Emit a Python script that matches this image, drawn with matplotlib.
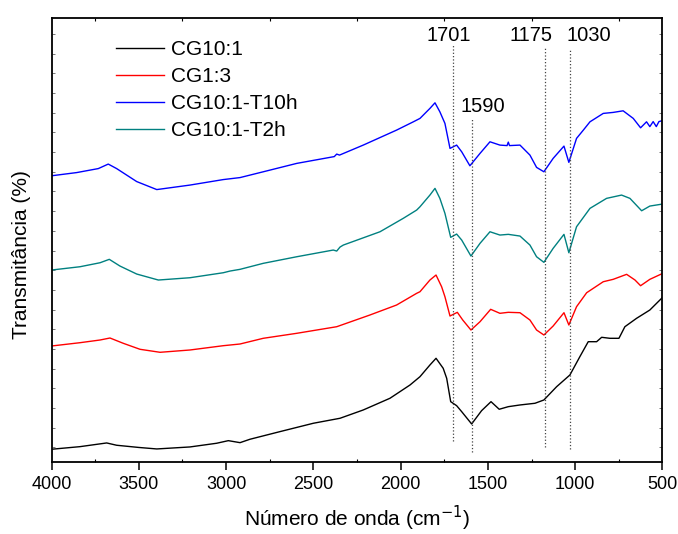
import numpy as np
import matplotlib
matplotlib.use("Agg")
import matplotlib.pyplot as plt
from matplotlib.ticker import MultipleLocator

plt.rcParams['font.family'] = ['Liberation Sans', 'DejaVu Sans']

# FTIR spectra, stacked (arbitrary transmittance offsets)
wn_black = [4000, 3837, 3684, 3627, 3500, 3397, 3207, 3054, 2987, 2920, 2863, 2692, 2500,
            2347, 2214, 2061, 1946, 1889, 1832, 1797, 1756, 1736, 1713, 1679, 1650,
            1593, 1536, 1482, 1435, 1383, 1316, 1230, 1179, 1106, 1030, 973, 925,
            877, 848, 801, 749, 715, 648, 572, 500]
t_black = [13.2, 15.8, 19.5, 17.2, 15.0, 13.5, 15.5, 19.2, 21.8, 19.8, 23.2, 30.8, 39.2,
           44.2, 52.5, 64.2, 77.5, 85.8, 97.5, 104.2, 94.2, 84.2, 60.8, 56.8, 50.8,
           38.5, 51.8, 60.8, 53.2, 55.8, 57.5, 59.2, 62.5, 75.8, 87.5, 105.8, 120.8,
           120.8, 125.2, 124.2, 124.2, 135.8, 144.2, 152.5, 165.0]

wn_red = [4000, 3837, 3722, 3665, 3589, 3493, 3378, 3207, 3016, 2920, 2787, 2595,
          2366, 2176, 2023, 1908, 1889, 1832, 1797, 1765, 1746, 1717, 1675, 1644,
          1597, 1545, 1484, 1431, 1383, 1316, 1259, 1221, 1179, 1126, 1064, 1036,
          992, 934, 839, 782, 705, 657, 625, 572, 500]
t_red = [116.5, 119.8, 122.5, 124.5, 119.2, 113.2, 110.2, 112.5, 116.8, 118.5, 124.2, 129.2,
         135.8, 147.5, 157.5, 169.2, 170.8, 182.5, 187.5, 175.8, 165.8, 146.5, 150.2, 142.5,
         132.5, 140.8, 153.2, 149.2, 150.2, 149.8, 142.5, 132.5, 127.5, 136.5, 149.8, 137.5,
         155.8, 169.8, 180.8, 183.2, 188.2, 182.5, 176.8, 183.2, 189.0]

wn_blue = [4000, 3856, 3732, 3675, 3627, 3512, 3397, 3207, 3016, 2920, 2787, 2595,
           2380, 2366, 2350, 2214, 2023, 1927, 1889, 1832, 1803, 1775, 1746, 1717,
           1679, 1650, 1603, 1545, 1488, 1431, 1390, 1383, 1376, 1316, 1259, 1221,
           1179, 1126, 1064, 1036, 992, 953, 915, 839, 782, 725, 667, 625, 591, 572,
           553, 535, 520, 500]
t_blue = [286.8, 290.0, 294.0, 298.5, 294.0, 281.0, 273.0, 277.5, 283.0, 285.0, 290.8, 299.2,
          306.0, 308.5, 307.5, 317.5, 332.5, 340.8, 344.2, 354.2, 359.8, 350.8, 339.2, 314.2,
          317.5, 310.8, 296.8, 309.2, 320.8, 317.5, 317.0, 320.5, 317.0, 317.5, 307.5, 295.2,
          290.8, 304.2, 316.5, 300.2, 324.2, 332.5, 340.8, 349.2, 350.2, 351.8, 344.2, 334.8,
          340.8, 336.0, 341.0, 336.0, 341.0, 342.0]

wn_teal = [4000, 3837, 3722, 3669, 3608, 3512, 3388, 3207, 3016, 2977, 2920, 2787,
           2595, 2386, 2366, 2347, 2328, 2118, 1985, 1908, 1889, 1832, 1803, 1775,
           1746, 1713, 1679, 1650, 1597, 1545, 1488, 1431, 1383, 1316, 1259, 1221,
           1179, 1126, 1064, 1036, 992, 915, 820, 734, 686, 619, 572, 500]
t_teal = [192.5, 195.8, 199.8, 203.2, 196.5, 188.5, 182.5, 184.8, 189.8, 191.5, 193.2, 199.2,
          205.8, 212.5, 211.5, 215.5, 217.5, 230.8, 244.2, 252.5, 255.8, 267.5, 274.2, 264.2,
          249.2, 225.2, 228.5, 222.5, 206.5, 219.2, 230.8, 227.5, 228.2, 226.5, 217.5, 205.8,
          200.2, 214.2, 228.2, 209.8, 235.8, 254.2, 264.2, 267.5, 264.2, 251.8, 256.5, 258.5]

labels = ['CG10:1', 'CG1:3', 'CG10:1-T10h', 'CG10:1-T2h']
colors = ['#000000', '#ff0000', '#0000ff', '#008080']

# marked bands: position, dotted line span, label anchor
band_pos = [1701, 1590, 1175, 1030]
band_lo = [21.8, 10.8, 15.2, 13.2]
band_hi = [417.5, 343.2, 414.2, 412.5]
band_text_x = [1724, 1528, 1251, 920]
band_text_y = [426.8, 355.8, 426.8, 426.8]

fig = plt.figure(figsize=(6.78, 5.34), dpi=100)
ax = fig.add_axes([0.076, 0.134, 0.901, 0.832])

series = [(wn_black, t_black), (wn_red, t_red), (wn_blue, t_blue), (wn_teal, t_teal)]
for (x, y), lab, c in zip(series, labels, colors):
    ax.plot(x, y, color=c, lw=1.0, label=lab)

for p, lo, hi in zip(band_pos, band_lo, band_hi):
    ax.plot([p, p], [lo, hi], ls=':', color='#444444', lw=0.9)
for p, tx, ty in zip(band_pos, band_text_x, band_text_y):
    ax.text(tx, ty, str(p), fontsize=14.5, ha='center', va='center')

ax.set_xlim(4000, 500)
ax.set_ylim(0, 444.5)
ax.xaxis.set_major_locator(MultipleLocator(500))
ax.xaxis.set_minor_locator(MultipleLocator(250))
ax.set_yticks(np.arange(15, 444, 19.7))
ax.set_yticklabels([])

ax.tick_params(axis='x', which='major', direction='out', length=5.5, width=1.1,
               labelsize=13, pad=4, top=False)
ax.tick_params(axis='x', which='minor', direction='in', length=2, width=0.8, top=True)
ax.tick_params(axis='y', which='major', direction='in', length=2, width=0.7,
               color='#777777', right=True)
for s in ax.spines.values():
    s.set_linewidth(1.3)

ax.set_xlabel('Número de onda (cm$^{-1}$)', fontsize=15, labelpad=8)
ax.set_ylabel('Transmitância (%)', fontsize=15)
ax.yaxis.set_label_coords(-0.034, 0.468)

ax.legend(loc='upper left', bbox_to_anchor=(0.1056, 0.950), frameon=False,
          fontsize=15, handlelength=2.3, handletextpad=0.35, labelspacing=0.38,
          borderpad=0, borderaxespad=0)

fig.savefig('out.png', dpi=100)
